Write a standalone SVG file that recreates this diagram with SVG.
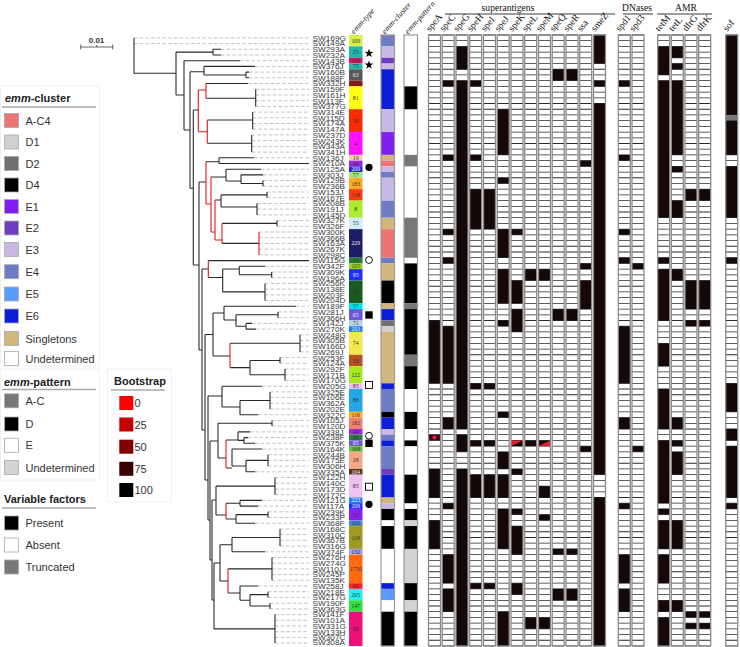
<svg xmlns="http://www.w3.org/2000/svg" width="740" height="647" viewBox="0 0 740 647">
<style>
.tk{fill:none;stroke:#2a2a2a;stroke-width:1.1}
.tr{fill:none;stroke:#e01818;stroke-width:1.1}
.dl{fill:none;stroke:#b4b4b4;stroke-width:0.8;stroke-dasharray:3.5 2.2}
.lab{font-family:"Liberation Sans",Arial,sans-serif;font-size:7.1px;fill:#3a3a3a}
.et{font-family:"Liberation Serif","Times New Roman",serif;font-size:5.8px;text-anchor:middle;fill:#333}
.ew{fill:#eee}
.hd{font-family:"Liberation Serif","Times New Roman",serif;font-size:9.6px;fill:#111}
.hi{font-family:"Liberation Serif","Times New Roman",serif;font-size:8px;font-style:italic;fill:#111}
.lg{font-family:"Liberation Sans",Arial,sans-serif;font-size:11px;fill:#333}
.lh{font-family:"Liberation Sans",Arial,sans-serif;font-size:11px;font-weight:bold;fill:#222}
.sq{stroke:#aaa;stroke-width:0.8}
.cw{fill:#fff}
.rs{stroke:#2a2a2a;stroke-width:12;stroke-dasharray:0.8 4.91}
.co{fill:none;stroke:#8a8a8a;stroke-width:1.3}
.b{fill:#140808}
.cb{stroke:#999;stroke-width:1.2;fill:none}
.ac4{fill:#ee7474}.d1{fill:#d0d0d0}.d2{fill:#707070}.d4{fill:#000}.e1{fill:#8020f0}.e2{fill:#6e3cc0}.e3{fill:#c9b8e6}.e4{fill:#6d7cc4}.e5{fill:#5a9cff}.e6{fill:#0c1ed6}.sg{fill:#d2b77c}.un{fill:#fff}
.pac{fill:#777}.pd{fill:#000}.pu{fill:#d3d3d3}
</style>
<defs>
<path id="star" d="M0,-4.6 L1.08,-1.5 4.38,-1.42 1.75,0.57 2.71,3.72 0,1.84 -2.71,3.72 -1.75,0.57 -4.38,-1.42 -1.08,-1.5Z" fill="#000"/>
</defs>
<rect width="740" height="647" fill="#fff"/>

<g id="scale">
<text x="96.5" y="42.5" font-family="Liberation Sans,Arial,sans-serif" font-size="8" font-weight="bold" fill="#333" text-anchor="middle">0.01</text>
<path d="M80.7 47H112.7 M80.7 44.5V49.5 M112.7 44.5V49.5 M96.7 45V47" stroke="#555" stroke-width="0.9" fill="none"/>
</g>

<g id="legend-cluster">
<rect x="0.5" y="86" width="99" height="280" fill="none" stroke="#f0f0f0"/>
<text class="lh" x="5" y="101.5"><tspan font-style="italic">emm</tspan>-cluster</text>
<path d="M2 107H96" stroke="#aaa" stroke-width="1.5"/>
<rect class="sq ac4" x="4.5" y="113.5" width="14" height="14"/><text class="lg" x="25.5" y="124.5">A-C4</text>
<rect class="sq d1" x="4.5" y="135" width="14" height="14"/><text class="lg" x="25.5" y="146">D1</text>
<rect class="sq d2" x="4.5" y="156.5" width="14" height="14"/><text class="lg" x="25.5" y="167.5">D2</text>
<rect class="sq d4" x="4.5" y="178" width="14" height="14"/><text class="lg" x="25.5" y="189">D4</text>
<rect class="sq e1" x="4.5" y="199.5" width="14" height="14"/><text class="lg" x="25.5" y="210.5">E1</text>
<rect class="sq e2" x="4.5" y="221" width="14" height="14"/><text class="lg" x="25.5" y="232">E2</text>
<rect class="sq e3" x="4.5" y="242.5" width="14" height="14"/><text class="lg" x="25.5" y="253.5">E3</text>
<rect class="sq e4" x="4.5" y="264.7" width="14" height="14"/><text class="lg" x="25.5" y="275.7">E4</text>
<rect class="sq e5" x="4.5" y="287" width="14" height="14"/><text class="lg" x="25.5" y="298">E5</text>
<rect class="sq e6" x="4.5" y="309" width="14" height="14"/><text class="lg" x="25.5" y="320">E6</text>
<rect class="sq sg" x="4.5" y="331.5" width="14" height="14"/><text class="lg" x="25.5" y="342.5">Singletons</text>
<rect class="sq un" x="4.5" y="351.5" width="14" height="14"/><text class="lg" x="25.5" y="362.5">Undetermined</text>
</g>

<g id="legend-pattern">
<rect x="0.5" y="369" width="99" height="111" fill="none" stroke="#f0f0f0"/>
<text class="lh" x="4" y="385.5"><tspan font-style="italic">emm</tspan>-pattern</text>
<path d="M2 389.5H96" stroke="#aaa" stroke-width="1.5"/>
<rect class="sq pac" x="4.5" y="393.8" width="14" height="14"/><text class="lg" x="25.5" y="404.8">A-C</text>
<rect class="sq pd" x="4.5" y="417" width="14" height="14"/><text class="lg" x="25.5" y="428">D</text>
<rect class="sq un" x="4.5" y="438.3" width="14" height="14"/><text class="lg" x="25.5" y="449.3">E</text>
<rect class="sq pu" x="4.5" y="460.5" width="14" height="14"/><text class="lg" x="25.5" y="471.5">Undetermined</text>
</g>

<g id="legend-bootstrap">
<rect x="107.5" y="369" width="64" height="133" fill="none" stroke="#f0f0f0"/>
<text class="lh" x="114" y="385">Bootstrap</text>
<path d="M111 390H165" stroke="#aaa" stroke-width="1.5"/>
<rect x="119.3" y="396" width="14" height="14" fill="#ff0000"/><text class="lg" x="134.5" y="407">0</text>
<rect x="119.3" y="417.5" width="14" height="14" fill="#c40000"/><text class="lg" x="134.5" y="428.5">25</text>
<rect x="119.3" y="439.7" width="14" height="14" fill="#800000"/><text class="lg" x="134.5" y="450.7">50</text>
<rect x="119.3" y="461.8" width="14" height="14" fill="#3a0000"/><text class="lg" x="134.5" y="472.8">75</text>
<rect x="119.3" y="483" width="14" height="14" fill="#000"/><text class="lg" x="134.5" y="494">100</text>
</g>

<g id="legend-factors">
<text class="lh" x="4" y="503">Variable factors</text>
<path d="M2 508H96" stroke="#aaa" stroke-width="1.5"/>
<rect class="sq" x="4.5" y="516" width="14" height="14" fill="#000"/><text class="lg" x="25.5" y="527">Present</text>
<rect class="sq" x="4.5" y="538" width="14" height="14" fill="#fff"/><text class="lg" x="25.5" y="549">Absent</text>
<rect class="sq" x="4.5" y="560" width="14" height="14" fill="#777"/><text class="lg" x="25.5" y="571">Truncated</text>
</g>

<g id="connectors">
<path class="dl" d="M134 37.9H309 M134 43.6H309 M221 49.3H309 M221 55H309 M240 60.7H309 M255 66.4H309 M249 72.1H309 M249 77.8H309 M248 83.5H309 M255.7 89.3H309 M255.7 95H309 M255.7 100.7H309 M255.7 106.4H309 M252.7 112.1H309 M252.7 117.8H309 M252.7 123.5H309 M252.7 129.2H309 M251.7 134.9H309 M251.7 140.6H309 M251.7 146.4H309 M251.7 152.1H309 M254 157.8H309 M261 169.2H309 M263 174.9H309 M263 180.6H309 M263 186.3H309 M267 192H309 M267 197.7H309 M257 203.5H309 M257 209.2H309 M257 214.9H309 M277 220.6H309 M277 226.3H309 M259 232H309 M259 237.7H309 M259 243.4H309 M259 249.1H309 M259 254.8H309 M265 266.3H309 M271.7 272H309 M271.7 277.7H309 M265 283.4H309 M265 289.1H309 M265 294.8H309 M265 300.5H309 M296 306.2H309 M278 311.9H309 M278 317.7H309 M252 323.4H309 M256 329.1H309 M300 334.8H309 M300 340.5H309 M300 346.2H309 M300 351.9H309 M280 357.6H309 M280 363.3H309 M285 369H309 M285 374.8H309 M285 380.5H309 M262 386.2H309 M270 391.9H309 M270 397.6H309 M270 403.3H309 M270 409H309 M258 414.7H309 M272 420.4H309 M272 426.1H309 M250 431.9H309 M248 437.6H309 M255 443.3H309 M262 449H309 M268 454.7H309 M268 460.4H309 M268 466.1H309 M255 471.8H309 M275 477.5H309 M275 483.2H309 M275 489H309 M275 494.7H309 M262 500.4H309 M258 506.1H309 M268 511.8H309 M268 517.5H309 M255 523.2H309 M280 528.9H309 M280 534.6H309 M280 540.3H309 M280 546.1H309 M265 551.8H309 M272 557.5H309 M272 563.2H309 M272 568.9H309 M272 574.6H309 M272 580.3H309 M258 586H309 M268 591.7H309 M268 597.4H309 M270 603.2H309 M270 608.9H309 M275 614.6H309 M275 620.3H309 M275 626H309 M275 631.7H309 M275 637.4H309 M275 643.1H309"/>
<path class="tk" d="M134 37.9V73.3H176 M176 52.1V95 M176 52.1H213 M213 49.3V55 M213 49.3H221 M213 55H221 M176 95H184 M184 60.7V130 M184 60.7H240 M184 130H190 M190 71.7V188.3 M190 71.7H204 M204 66.4V75 M204 66.4H255 M204 75H246 M246 72.1V77.8 M246 72.1H249 M246 77.8H249 M190 188.3H193.3 M193.3 110V265 M193.3 110H198.3 M206 83.5H248 M206 98.3H255.7 M255.7 89.3V106.4 M207.3 120H252.7 M252.7 112.1V129.2 M207.3 143.3H251.7 M251.7 134.9V152.1 M193.3 265H199 M199 182V350 M199 182H206 M206 161.7H219 M219 157.8V163.5 M219 157.8H254 M219 163.5H309 M211 177H226 M226 169.2V181 M226 169.2H261 M226 181H241 M241 174.9V183.5 M241 174.9H263 M241 183.5H263 M263 180.6V186.3 M215 200H221 M221 194.9V207 M221 194.9H267 M267 192V197.7 M221 207H257 M257 203.5V214.9 M222 223.4H277 M277 220.6V226.3 M222 243.4H259
M202 269V430 M202 269H208.3 M208.3 260.6H309 M208.3 277.5H222.7 M222.7 269V291.9 M222.7 269H239.3 M239.3 266.3V274.8 M239.3 266.3H265 M239.3 274.8H271.7 M271.7 272V277.7 M222.7 291.9H265 M265 283.4V300.5 M199 350H202 M202 430H205 M205 334.5V480 M205 334.5H213 M213 313V356 M213 313H224 M224 306.2V320 M224 306.2H296 M224 320H236 M236 314.8V326.2 M236 314.8H278 M278 311.9V317.7 M236 326.2H246 M246 323.4V329.1 M246 323.4H252 M246 329.1H256 M213 356H230 M230 343.3H300 M300 334.8V351.9 M230 367.6H250 M250 360.5V374.8 M250 360.5H280 M280 357.6V363.3 M250 374.8H285 M285 369V380.5
M205 480H208 M208 396V520 M208 396H222 M222 386.2V407 M222 386.2H262 M222 407H240 M240 400.5V414.7 M240 400.5H270 M270 391.9V409 M240 414.7H258
M208 520H210 M210 441V560 M210 441H218 M218 423.3V458 M218 423.3H272 M272 420.4V426.1 M218 458H226 M226 440H238 M238 431.9V440.4 M238 431.9H250 M238 440.4H244 M244 437.6V443.3 M244 437.6H248 M244 443.3H255 M226 468H232 M232 449V466 M232 449H262 M232 466H246 M246 460.4V471.8 M246 460.4H268 M268 454.7V466.1 M246 471.8H255
M210 560H212 M212 500V600 M212 500H216 M216 486.1V515 M216 486.1H275 M275 477.5V494.7 M216 515H226 M226 503.2H240 M240 500.4V506.1 M240 500.4H262 M240 506.1H258 M226 519H236 M236 514.6V523.2 M236 514.6H268 M268 511.8V517.5 M236 523.2H255
M212 600H214 M214 563V628.9 M214 563H220 M220 544.7V581 M220 544.7H232 M232 537.5V551.8 M232 537.5H280 M280 528.9V546.1 M232 551.8H265 M220 581H228 M228 568.9H272 M272 557.5V580.3 M228 593H240 M240 586V600.3 M240 586H258 M240 600.3H250 M250 594.6V606 M250 594.6H268 M268 591.7V597.4 M250 606H270 M270 603.2V608.9 M214 628.9H275 M275 614.6V643.1"/>
<path class="tr" d="M198.3 90V131.7 M198.3 90H206 M206 83.5V98.3 M198.3 131.7H207.3 M207.3 120V143.3 M206 161.7V204 M206 204H211 M211 177V232 M211 232H215 M215 200V240 M215 240H222 M222 223.4V243.4 M259 232V254.8 M208.3 260.6V277.5 M230 343.3V367.6 M226 440V468 M226 503.2V519 M228 568.9V593"/>
</g>

<g id="strains" class="lab" transform="translate(312.5,0) scale(1.16,1)">
<text x="0" y="40.76">SW169G</text><text x="0" y="46.47">SW149A</text><text x="0" y="52.18">SW293A</text><text x="0" y="57.89">SW232A</text><text x="0" y="63.6">SW143B</text><text x="0" y="69.31">SW376J</text><text x="0" y="75.02">SW160B</text><text x="0" y="80.73">SW188F</text><text x="0" y="86.44">SW332H</text><text x="0" y="92.15">SW159F</text><text x="0" y="97.86">SW161H</text><text x="0" y="103.57">SW113F</text><text x="0" y="109.28">SW377G</text><text x="0" y="114.99">SW314E</text><text x="0" y="120.7">SW115D</text><text x="0" y="126.41">SW174A</text><text x="0" y="132.12">SW147A</text><text x="0" y="137.83">SW237D</text><text x="0" y="143.54">SW243K</text><text x="0" y="149.25">SW343A</text><text x="0" y="154.96">SW341H</text><text x="0" y="160.67">SW136J</text><text x="0" y="166.38">SW210A</text><text x="0" y="172.09">SW125A</text><text x="0" y="177.8">SW303J</text><text x="0" y="183.51">SW129B</text><text x="0" y="189.22">SW236B</text><text x="0" y="194.93">SW153J</text><text x="0" y="200.64">SW167E</text><text x="0" y="206.35">SW208B</text><text x="0" y="212.06">SW191J</text><text x="0" y="217.77">SW145D</text><text x="0" y="223.48">SW327K</text><text x="0" y="229.19">SW326F</text><text x="0" y="234.9">SW300K</text><text x="0" y="240.61">SW366B</text><text x="0" y="246.32">SW163A</text><text x="0" y="252.03">SW267K</text><text x="0" y="257.74">SW298C</text><text x="0" y="263.45">SW115G</text><text x="0" y="269.16">SW342F</text><text x="0" y="274.87">SW309K</text><text x="0" y="280.58">SW196A</text><text x="0" y="286.29">SW256K</text><text x="0" y="292">SW138E</text><text x="0" y="297.71">SW203F</text><text x="0" y="303.42">SW204D</text><text x="0" y="309.13">SW189F</text><text x="0" y="314.84">SW281J</text><text x="0" y="320.55">SW366H</text><text x="0" y="326.26">SW142J</text><text x="0" y="331.97">SW270K</text><text x="0" y="337.68">SW248G</text><text x="0" y="343.39">SW305B</text><text x="0" y="349.1">SW166D</text><text x="0" y="354.81">SW269J</text><text x="0" y="360.52">SW253F</text><text x="0" y="366.23">SW124A</text><text x="0" y="371.94">SW292F</text><text x="0" y="377.65">SW171B</text><text x="0" y="383.36">SW170G</text><text x="0" y="389.07">SW205G</text><text x="0" y="394.78">SW325E</text><text x="0" y="400.49">SW106E</text><text x="0" y="406.2">SW362A</text><text x="0" y="411.91">SW202E</text><text x="0" y="417.62">SW322C</text><text x="0" y="423.33">SW105J</text><text x="0" y="429.04">SW120D</text><text x="0" y="434.75">SW338J</text><text x="0" y="440.46">SW238F</text><text x="0" y="446.17">SW375K</text><text x="0" y="451.88">SW164K</text><text x="0" y="457.59">SW244B</text><text x="0" y="463.3">SW175E</text><text x="0" y="469.01">SW306H</text><text x="0" y="474.72">SW335A</text><text x="0" y="480.43">SW122H</text><text x="0" y="486.14">SW140C</text><text x="0" y="491.85">SW173D</text><text x="0" y="497.56">SW172C</text><text x="0" y="503.27">SW121G</text><text x="0" y="508.98">SW117A</text><text x="0" y="514.69">SW239K</text><text x="0" y="520.4">SW233P</text><text x="0" y="526.11">SW368F</text><text x="0" y="531.82">SW168C</text><text x="0" y="537.53">SW310C</text><text x="0" y="543.24">SW367B</text><text x="0" y="548.95">SW316G</text><text x="0" y="554.66">SW374F</text><text x="0" y="560.37">SW276H</text><text x="0" y="566.08">SW274G</text><text x="0" y="571.79">SW110J</text><text x="0" y="577.5">SW245P</text><text x="0" y="583.21">SW135K</text><text x="0" y="588.92">SW258J</text><text x="0" y="594.63">SW218E</text><text x="0" y="600.34">SW217G</text><text x="0" y="606.05">SW190F</text><text x="0" y="611.76">SW363G</text><text x="0" y="617.47">SW141F</text><text x="0" y="623.18">SW101A</text><text x="0" y="628.89">SW331G</text><text x="0" y="634.6">SW133H</text><text x="0" y="640.31">SW307C</text><text x="0" y="645.5">SW308A</text>
</g>

<g id="headers">
<text class="hi" transform="translate(354,34.5) rotate(-48)">emm-type</text>
<text class="hi" transform="translate(385,34.5) rotate(-48)">emm-cluster</text>
<text class="hi" transform="translate(408,34.5) rotate(-48)">emm-pattern</text>
<text class="hd" x="508" y="10.5" text-anchor="middle">superantigens</text>
<path d="M445 14H615 M623 14H653 M657 14H712" stroke="#222" stroke-width="0.9"/>
<text class="hd" x="637" y="10.5" text-anchor="middle">DNases</text>
<text class="hd" x="686" y="10.5" text-anchor="middle">AMR</text>
<text class="hd" transform="translate(430,32) rotate(-50)">speA</text>
<text class="hd" transform="translate(443.7,32) rotate(-50)">speC</text>
<text class="hd" transform="translate(457.5,32) rotate(-50)">speG</text>
<text class="hd" transform="translate(471.2,32) rotate(-50)">speH</text>
<text class="hd" transform="translate(485,32) rotate(-50)">speI</text>
<text class="hd" transform="translate(498.7,32) rotate(-50)">speJ</text>
<text class="hd" transform="translate(512.5,32) rotate(-50)">speK</text>
<text class="hd" transform="translate(526.2,32) rotate(-50)">speL</text>
<text class="hd" transform="translate(540,32) rotate(-50)">speM</text>
<text class="hd" transform="translate(553.7,32) rotate(-50)">speQ</text>
<text class="hd" transform="translate(567.5,32) rotate(-50)">speR</text>
<text class="hd" transform="translate(581.2,32) rotate(-50)">ssa</text>
<text class="hd" transform="translate(595,32) rotate(-50)">smeZ</text>
<text class="hd" transform="translate(619.8,32) rotate(-50)">spd1</text>
<text class="hd" transform="translate(633.5,32) rotate(-50)">spd3</text>
<text class="hd" transform="translate(659.2,32) rotate(-50)">tetM</text>
<text class="hd" transform="translate(672.8,32) rotate(-50)">tetL</text>
<text class="hd" transform="translate(686.5,32) rotate(-50)">dfrG</text>
<text class="hd" transform="translate(700.2,32) rotate(-50)">dfrK</text>
<text class="hd" transform="translate(727.2,32) rotate(-50)">sof</text>
</g>

<g id="emm-type">
<rect x="349" y="35" width="13.5" height="11.42" fill="#d7ef4a"/><text class="et" x="355.75" y="42.7">109</text>
<rect x="349" y="46.42" width="13.5" height="11.42" fill="#22b5b0"/><text class="et" x="355.75" y="54.1">25</text>
<rect x="349" y="57.84" width="13.5" height="5.71" fill="#e0135e"/><text class="et" x="355.75" y="62.7">166</text>
<rect x="349" y="63.55" width="13.5" height="5.71" fill="#26b3a8"/><text class="et" x="355.75" y="68.4">75</text>
<rect x="349" y="69.26" width="13.5" height="11.42" fill="#595959"/><text class="et ew" x="355.75" y="77">63</text>
<rect x="349" y="80.68" width="13.5" height="5.71" fill="#8b1a10"/><text class="et" x="355.75" y="85.5">75</text>
<rect x="349" y="86.39" width="13.5" height="22.84" fill="#ffff10"/><text class="et" x="355.75" y="99.8">81</text>
<rect x="349" y="109.23" width="13.5" height="22.84" fill="#ff2a00"/><text class="et" x="355.75" y="122.6">58</text>
<rect x="349" y="132.07" width="13.5" height="22.84" fill="#ff10ff"/><text class="et" x="355.75" y="145.5">4</text>
<rect x="349" y="154.91" width="13.5" height="5.71" fill="#f8d0a8"/><text class="et" x="355.75" y="159.8">19</text>
<rect x="349" y="160.62" width="13.5" height="5.71" fill="#9b26e0"/><text class="et" x="355.75" y="165.5">49</text>
<rect x="349" y="166.33" width="13.5" height="5.71" fill="#2a28f0"/><text class="et ew" x="355.75" y="171.2">209</text>
<rect x="349" y="172.04" width="13.5" height="5.71" fill="#98e890"/><text class="et" x="355.75" y="176.9">77</text>
<rect x="349" y="177.75" width="13.5" height="11.42" fill="#ffaa22"/><text class="et" x="355.75" y="185.5">183</text>
<rect x="349" y="189.17" width="13.5" height="11.42" fill="#ff3a10"/><text class="et" x="355.75" y="196.9">118</text>
<rect x="349" y="200.59" width="13.5" height="17.13" fill="#aaee2a"/><text class="et" x="355.75" y="211.2">8</text>
<rect x="349" y="217.72" width="13.5" height="11.42" fill="#cfeefa"/><text class="et" x="355.75" y="225.4">55</text>
<rect x="349" y="229.14" width="13.5" height="28.55" fill="#1c1c68"/><text class="et ew" x="355.75" y="245.4">229</text>
<rect x="349" y="257.69" width="13.5" height="5.71" fill="#2a7a30"/><text class="et" x="355.75" y="262.5">33</text>
<rect x="349" y="263.4" width="13.5" height="5.71" fill="#9ad030"/><text class="et" x="355.75" y="268.2">105</text>
<rect x="349" y="269.11" width="13.5" height="11.42" fill="#2030ff"/><text class="et ew" x="355.75" y="276.8">95</text>
<rect x="349" y="280.53" width="13.5" height="22.84" fill="#1a5a20"/><text class="et" x="355.75" y="294">86</text>
<rect x="349" y="303.37" width="13.5" height="5.71" fill="#00e0f0"/><text class="et" x="355.75" y="308.2">57</text>
<rect x="349" y="309.08" width="13.5" height="11.42" fill="#6a5ad8"/><text class="et ew" x="355.75" y="316.8">65</text>
<rect x="349" y="320.5" width="13.5" height="5.71" fill="#b8d8e0"/><text class="et" x="355.75" y="325.4">71</text>
<rect x="349" y="326.21" width="13.5" height="5.71" fill="#1e78ff"/><text class="et ew" x="355.75" y="331.1">203</text>
<rect x="349" y="331.92" width="13.5" height="22.84" fill="#f0ea50"/><text class="et" x="355.75" y="345.3">74</text>
<rect x="349" y="354.76" width="13.5" height="11.42" fill="#b85020"/><text class="et" x="355.75" y="362.5">18</text>
<rect x="349" y="366.18" width="13.5" height="17.13" fill="#a8ea20"/><text class="et" x="355.75" y="376.8">122</text>
<rect x="349" y="383.31" width="13.5" height="5.71" fill="#f0c0f0"/><text class="et" x="355.75" y="388.2">85</text>
<rect x="349" y="389.02" width="13.5" height="22.84" fill="#22a8e8"/><text class="et" x="355.75" y="402.4">88</text>
<rect x="349" y="411.86" width="13.5" height="5.71" fill="#ffb020"/><text class="et" x="355.75" y="416.7">116</text>
<rect x="349" y="417.57" width="13.5" height="11.42" fill="#f08070"/><text class="et" x="355.75" y="425.3">182</text>
<rect x="349" y="428.99" width="13.5" height="5.71" fill="#9a2ae0"/><text class="et" x="355.75" y="433.9">49</text>
<rect x="349" y="434.7" width="13.5" height="5.71" fill="#2a8040"/><text class="et" x="355.75" y="439.6">89</text>
<rect x="349" y="440.41" width="13.5" height="5.71" fill="#6a5ad8"/><text class="et ew" x="355.75" y="445.3">65</text>
<rect x="349" y="446.12" width="13.5" height="5.71" fill="#70c040"/><text class="et" x="355.75" y="451">169</text>
<rect x="349" y="451.83" width="13.5" height="17.13" fill="#f4a888"/><text class="et" x="355.75" y="462.4">28</text>
<rect x="349" y="468.96" width="13.5" height="5.71" fill="#5a3020"/><text class="et ew" x="355.75" y="473.8">104</text>
<rect x="349" y="474.67" width="13.5" height="22.84" fill="#f0c0f0"/><text class="et" x="355.75" y="488.1">85</text>
<rect x="349" y="497.51" width="13.5" height="5.71" fill="#2080ff"/><text class="et ew" x="355.75" y="502.4">223</text>
<rect x="349" y="503.22" width="13.5" height="5.71" fill="#2030ff"/><text class="et ew" x="355.75" y="508.1">209</text>
<rect x="349" y="508.93" width="13.5" height="11.42" fill="#8a20f0"/><text class="et" x="355.75" y="516.6">50</text>
<rect x="349" y="520.35" width="13.5" height="5.71" fill="#4a8ad0"/><text class="et" x="355.75" y="525.2">162</text>
<rect x="349" y="526.06" width="13.5" height="22.84" fill="#a09a20"/><text class="et" x="355.75" y="539.5">119</text>
<rect x="349" y="548.9" width="13.5" height="5.71" fill="#a0a0e8"/><text class="et" x="355.75" y="553.8">132</text>
<rect x="349" y="554.61" width="13.5" height="28.55" fill="#ff6a10"/><text class="et" x="355.75" y="570.9">1750</text>
<rect x="349" y="583.16" width="13.5" height="5.71" fill="#ff2020"/><text class="et" x="355.75" y="588">42</text>
<rect x="349" y="588.87" width="13.5" height="11.42" fill="#20f0f8"/><text class="et" x="355.75" y="596.6">205</text>
<rect x="349" y="600.29" width="13.5" height="11.42" fill="#30e040"/><text class="et" x="355.75" y="608">147</text>
<rect x="349" y="611.71" width="13.5" height="34.26" fill="#f0107a"/><text class="et" x="355.75" y="630.8">80</text>
</g>

<g id="markers">
<use href="#star" x="369" y="53.3"/>
<use href="#star" x="369" y="65"/>
<circle cx="369" cy="167.3" r="3.6" fill="#000"/>
<circle cx="369" cy="260" r="3.4" fill="#fff" stroke="#000" stroke-width="0.9"/>
<rect x="365.3" y="311.3" width="7.4" height="7.4" fill="#000"/>
<rect x="365.5" y="381.5" width="7" height="7" fill="#fff" stroke="#000" stroke-width="0.9"/>
<circle cx="369" cy="435.7" r="3.4" fill="#fff" stroke="#000" stroke-width="0.9"/>
<rect x="365.3" y="439.6" width="7.4" height="7.4" fill="#000"/>
<rect x="365.5" y="483.2" width="7" height="7" fill="#fff" stroke="#000" stroke-width="0.9"/>
<circle cx="369" cy="504.3" r="3.6" fill="#000"/>
</g>

<g id="emm-cluster">
<rect class="e4" x="381" y="35" width="13.5" height="11.42"/>
<rect class="e3" x="381" y="46.42" width="13.5" height="11.42"/>
<rect class="e2" x="381" y="57.84" width="13.5" height="5.71"/>
<rect class="e3" x="381" y="63.55" width="13.5" height="5.71"/>
<rect class="e6" x="381" y="69.26" width="13.5" height="39.97"/>
<rect class="e3" x="381" y="109.23" width="13.5" height="22.84"/>
<rect class="e1" x="381" y="132.07" width="13.5" height="22.84"/>
<rect class="sg" x="381" y="154.91" width="13.5" height="5.71"/>
<rect class="ac4" x="381" y="160.62" width="13.5" height="5.71"/>
<rect class="e3" x="381" y="166.33" width="13.5" height="5.71"/>
<rect class="e4" x="381" y="172.04" width="13.5" height="5.71"/>
<rect class="e3" x="381" y="177.75" width="13.5" height="22.84"/>
<rect class="e4" x="381" y="200.59" width="13.5" height="17.13"/>
<rect class="sg" x="381" y="217.72" width="13.5" height="11.42"/>
<rect class="ac4" x="381" y="229.14" width="13.5" height="28.55"/>
<rect class="e4" x="381" y="257.69" width="13.5" height="5.71"/>
<rect class="sg" x="381" y="263.4" width="13.5" height="17.13"/>
<rect class="d4" x="381" y="280.53" width="13.5" height="22.84"/>
<rect class="sg" x="381" y="303.37" width="13.5" height="5.71"/>
<rect class="e6" x="381" y="309.08" width="13.5" height="11.42"/>
<rect class="d2" x="381" y="320.5" width="13.5" height="5.71"/>
<rect class="d1" x="381" y="326.21" width="13.5" height="5.71"/>
<rect class="sg" x="381" y="331.92" width="13.5" height="51.39"/>
<rect class="e6" x="381" y="383.31" width="13.5" height="5.71"/>
<rect class="e4" x="381" y="389.02" width="13.5" height="22.84"/>
<rect class="d4" x="381" y="411.86" width="13.5" height="5.71"/>
<rect class="e6" x="381" y="417.57" width="13.5" height="11.42"/>
<rect class="e3" x="381" y="428.99" width="13.5" height="5.71"/>
<rect class="e4" x="381" y="434.7" width="13.5" height="5.71"/>
<rect class="e6" x="381" y="440.41" width="13.5" height="5.71"/>
<rect class="e4" x="381" y="446.12" width="13.5" height="22.84"/>
<rect class="e2" x="381" y="468.96" width="13.5" height="5.71"/>
<rect class="e6" x="381" y="474.67" width="13.5" height="22.84"/>
<rect class="sg" x="381" y="497.51" width="13.5" height="5.71"/>
<rect class="e3" x="381" y="503.22" width="13.5" height="5.71"/>
<rect class="d4" x="381" y="508.93" width="13.5" height="11.42"/>
<rect class="un" x="381" y="520.35" width="13.5" height="5.71"/>
<rect class="d4" x="381" y="526.06" width="13.5" height="22.84"/>
<rect class="un" x="381" y="548.9" width="13.5" height="34.26"/>
<rect class="e6" x="381" y="583.16" width="13.5" height="5.71"/>
<rect class="e5" x="381" y="588.87" width="13.5" height="11.42"/>
<rect class="un" x="381" y="600.29" width="13.5" height="11.42"/>
<rect class="d4" x="381" y="611.71" width="13.5" height="34.26"/>
<rect class="cb" x="381" y="35" width="13.5" height="611"/>
</g>

<g id="emm-pattern">
<rect class="un" x="404" y="35" width="13.5" height="611"/>
<rect class="pd" x="404" y="86.39" width="13.5" height="22.84"/>
<rect class="pac" x="404" y="154.91" width="13.5" height="11.42"/>
<rect class="pac" x="404" y="217.72" width="13.5" height="39.97"/>
<rect class="pd" x="404" y="263.4" width="13.5" height="39.97"/>
<rect class="pac" x="404" y="303.37" width="13.5" height="5.71"/>
<rect class="pd" x="404" y="309.08" width="13.5" height="45.68"/>
<rect class="pac" x="404" y="354.76" width="13.5" height="11.42"/>
<rect class="pd" x="404" y="366.18" width="13.5" height="22.84"/>
<rect class="pd" x="404" y="411.86" width="13.5" height="17.13"/>
<rect class="pd" x="404" y="440.41" width="13.5" height="5.71"/>
<rect class="pd" x="404" y="474.67" width="13.5" height="28.55"/>
<rect class="pd" x="404" y="508.93" width="13.5" height="11.42"/>
<rect class="pu" x="404" y="520.35" width="13.5" height="5.71"/>
<rect class="pd" x="404" y="526.06" width="13.5" height="22.84"/>
<rect class="pu" x="404" y="548.9" width="13.5" height="34.26"/>
<rect class="pd" x="404" y="583.16" width="13.5" height="17.13"/>
<rect class="pu" x="404" y="600.29" width="13.5" height="11.42"/>
<rect class="pd" x="404" y="611.71" width="13.5" height="34.26"/>
<rect class="cb" x="404" y="35" width="13.5" height="611"/>
</g>

<g id="heatmap">
<g id="col-speA"><rect class="cw" x="428.5" y="35" width="12" height="611"/><line class="rs" x1="434.5" y1="34.6" x2="434.5" y2="646.4"/>
<rect class="b" x="428.5" y="320.5" width="12" height="62.81"/><rect x="428.5" y="434.7" width="12" height="5.71" fill="#3a0610"/><circle cx="434.5" cy="437.55" r="2" fill="#e8204a"/><rect class="b" x="428.5" y="468.96" width="12" height="28.55"/><rect class="b" x="428.5" y="520.35" width="12" height="28.55"/><rect class="co" x="428.5" y="35" width="12" height="611"/></g>
<g id="col-speC"><rect class="cw" x="442.2" y="35" width="12" height="611"/><line class="rs" x1="448.2" y1="34.6" x2="448.2" y2="646.4"/>
<rect class="b" x="442.2" y="80.68" width="12" height="5.71"/><rect class="b" x="442.2" y="154.91" width="12" height="5.71"/><rect class="b" x="442.2" y="229.14" width="12" height="5.71"/><rect class="b" x="442.2" y="257.69" width="12" height="5.71"/><rect class="b" x="442.2" y="326.21" width="12" height="57.1"/><rect class="b" x="442.2" y="417.57" width="12" height="11.42"/><rect class="b" x="442.2" y="503.22" width="12" height="5.71"/><rect class="b" x="442.2" y="554.61" width="12" height="28.55"/><rect class="b" x="442.2" y="588.87" width="12" height="22.84"/><rect class="co" x="442.2" y="35" width="12" height="611"/></g>
<g id="col-speG"><rect class="cw" x="456" y="35" width="12" height="611"/><line class="rs" x1="462" y1="34.6" x2="462" y2="646.4"/>
<rect class="b" x="456" y="46.42" width="12" height="22.84"/><rect class="b" x="456" y="80.68" width="12" height="348.31"/><rect class="b" x="456" y="434.7" width="12" height="17.13"/><rect class="b" x="456" y="468.96" width="12" height="177.01"/><rect class="co" x="456" y="35" width="12" height="611"/></g>
<g id="col-speH"><rect class="cw" x="469.7" y="35" width="12" height="611"/><line class="rs" x1="475.7" y1="34.6" x2="475.7" y2="646.4"/>
<rect class="b" x="469.7" y="80.68" width="12" height="5.71"/><rect class="b" x="469.7" y="154.91" width="12" height="5.71"/><rect class="b" x="469.7" y="189.17" width="12" height="39.97"/><rect class="b" x="469.7" y="383.31" width="12" height="5.71"/><rect class="b" x="469.7" y="440.41" width="12" height="5.71"/><rect class="b" x="469.7" y="474.67" width="12" height="22.84"/><rect class="b" x="469.7" y="583.16" width="12" height="5.71"/><rect class="co" x="469.7" y="35" width="12" height="611"/></g>
<g id="col-speI"><rect class="cw" x="483.5" y="35" width="12" height="611"/><line class="rs" x1="489.5" y1="34.6" x2="489.5" y2="646.4"/>
<rect class="b" x="483.5" y="189.17" width="12" height="39.97"/><rect class="b" x="483.5" y="383.31" width="12" height="5.71"/><rect class="b" x="483.5" y="440.41" width="12" height="5.71"/><rect class="b" x="483.5" y="474.67" width="12" height="22.84"/><rect class="b" x="483.5" y="583.16" width="12" height="5.71"/><rect class="co" x="483.5" y="35" width="12" height="611"/></g>
<g id="col-speJ"><rect class="cw" x="497.2" y="35" width="12" height="611"/><line class="rs" x1="503.2" y1="34.6" x2="503.2" y2="646.4"/>
<rect class="b" x="497.2" y="109.23" width="12" height="45.68"/><rect class="b" x="497.2" y="177.75" width="12" height="5.71"/><rect class="b" x="497.2" y="229.14" width="12" height="28.55"/><rect class="b" x="497.2" y="269.11" width="12" height="34.26"/><rect class="b" x="497.2" y="320.5" width="12" height="5.71"/><rect class="b" x="497.2" y="411.86" width="12" height="5.71"/><rect class="b" x="497.2" y="451.83" width="12" height="17.13"/><rect class="b" x="497.2" y="474.67" width="12" height="22.84"/><rect class="b" x="497.2" y="508.93" width="12" height="39.97"/><rect class="b" x="497.2" y="611.71" width="12" height="34.26"/><rect class="co" x="497.2" y="35" width="12" height="611"/></g>
<g id="col-speK"><rect class="cw" x="511" y="35" width="12" height="611"/><line class="rs" x1="517" y1="34.6" x2="517" y2="646.4"/>
<rect class="b" x="511" y="229.14" width="12" height="5.71"/><rect class="b" x="511" y="280.53" width="12" height="22.84"/><rect class="b" x="511" y="309.08" width="12" height="22.84"/><rect class="b" x="511" y="440.41" width="12" height="5.71"/><polygon points="511,440.41 523,440.41 511,446.12" fill="#e8202a"/><rect class="b" x="511" y="468.96" width="12" height="5.71"/><rect class="b" x="511" y="508.93" width="12" height="5.71"/><rect class="b" x="511" y="526.06" width="12" height="28.55"/><rect class="b" x="511" y="583.16" width="12" height="11.42"/><rect class="co" x="511" y="35" width="12" height="611"/></g>
<g id="col-speL"><rect class="cw" x="524.7" y="35" width="12" height="611"/><line class="rs" x1="530.7" y1="34.6" x2="530.7" y2="646.4"/>
<rect class="b" x="524.7" y="269.11" width="12" height="11.42"/><rect class="b" x="524.7" y="440.41" width="12" height="5.71"/><rect class="b" x="524.7" y="617.42" width="12" height="11.42"/><rect class="co" x="524.7" y="35" width="12" height="611"/></g>
<g id="col-speM"><rect class="cw" x="538.5" y="35" width="12" height="611"/><line class="rs" x1="544.5" y1="34.6" x2="544.5" y2="646.4"/>
<rect class="b" x="538.5" y="269.11" width="12" height="11.42"/><rect class="b" x="538.5" y="440.41" width="12" height="5.71"/><polygon points="550.5,440.41 550.5,446.12 538.5,446.12" fill="#e8202a"/><rect class="b" x="538.5" y="486.09" width="12" height="11.42"/><rect class="b" x="538.5" y="514.64" width="12" height="5.71"/><rect class="b" x="538.5" y="617.42" width="12" height="11.42"/><rect class="co" x="538.5" y="35" width="12" height="611"/></g>
<g id="col-speQ"><rect class="cw" x="552.2" y="35" width="12" height="611"/><line class="rs" x1="558.2" y1="34.6" x2="558.2" y2="646.4"/>
<rect class="b" x="552.2" y="69.26" width="12" height="11.42"/><rect class="b" x="552.2" y="309.08" width="12" height="11.42"/><rect class="b" x="552.2" y="548.9" width="12" height="5.71"/><rect class="b" x="552.2" y="588.87" width="12" height="11.42"/><rect class="co" x="552.2" y="35" width="12" height="611"/></g>
<g id="col-speR"><rect class="cw" x="566" y="35" width="12" height="611"/><line class="rs" x1="572" y1="34.6" x2="572" y2="646.4"/>
<rect class="b" x="566" y="69.26" width="12" height="11.42"/><rect class="b" x="566" y="309.08" width="12" height="11.42"/><rect class="b" x="566" y="548.9" width="12" height="5.71"/><rect class="b" x="566" y="588.87" width="12" height="11.42"/><rect class="co" x="566" y="35" width="12" height="611"/></g>
<g id="col-ssa"><rect class="cw" x="579.7" y="35" width="12" height="611"/><line class="rs" x1="585.7" y1="34.6" x2="585.7" y2="646.4"/>
<rect class="b" x="579.7" y="160.62" width="12" height="5.71"/><rect class="b" x="579.7" y="263.4" width="12" height="5.71"/><rect class="b" x="579.7" y="280.53" width="12" height="28.55"/><rect class="b" x="579.7" y="446.12" width="12" height="5.71"/><rect class="co" x="579.7" y="35" width="12" height="611"/></g>
<g id="col-smeZ"><rect class="cw" x="593.5" y="35" width="12" height="611"/><line class="rs" x1="599.5" y1="34.6" x2="599.5" y2="646.4"/>
<rect class="b" x="593.5" y="35" width="12" height="28.55"/><rect class="b" x="593.5" y="80.68" width="12" height="5.71"/><rect class="b" x="593.5" y="103.52" width="12" height="371.15"/><rect class="b" x="593.5" y="497.51" width="12" height="148.46"/><rect class="co" x="593.5" y="35" width="12" height="611"/></g>
<g id="col-spd1"><rect class="cw" x="618.3" y="35" width="12" height="611"/><line class="rs" x1="624.3" y1="34.6" x2="624.3" y2="646.4"/>
<rect class="b" x="618.3" y="80.68" width="12" height="5.71"/><rect class="b" x="618.3" y="154.91" width="12" height="5.71"/><rect class="b" x="618.3" y="229.14" width="12" height="5.71"/><rect class="b" x="618.3" y="257.69" width="12" height="5.71"/><rect class="b" x="618.3" y="326.21" width="12" height="57.1"/><rect class="b" x="618.3" y="417.57" width="12" height="11.42"/><rect class="b" x="618.3" y="503.22" width="12" height="5.71"/><rect class="b" x="618.3" y="554.61" width="12" height="28.55"/><rect class="b" x="618.3" y="588.87" width="12" height="22.84"/><rect class="co" x="618.3" y="35" width="12" height="611"/></g>
<g id="col-spd3"><rect class="cw" x="632" y="35" width="12" height="611"/><line class="rs" x1="638" y1="34.6" x2="638" y2="646.4"/>
<rect class="b" x="632" y="263.4" width="12" height="5.71"/><rect class="b" x="632" y="446.12" width="12" height="5.71"/><rect class="co" x="632" y="35" width="12" height="611"/></g>
<g id="col-tetM"><rect class="cw" x="657.7" y="35" width="12" height="611"/><line class="rs" x1="663.7" y1="34.6" x2="663.7" y2="646.4"/>
<rect class="b" x="657.7" y="46.42" width="12" height="28.55"/><rect class="b" x="657.7" y="80.68" width="12" height="137.04"/><rect class="b" x="657.7" y="257.69" width="12" height="5.71"/><rect class="b" x="657.7" y="269.11" width="12" height="51.39"/><rect class="b" x="657.7" y="343.34" width="12" height="22.84"/><rect class="b" x="657.7" y="389.02" width="12" height="39.97"/><rect class="b" x="657.7" y="440.41" width="12" height="62.81"/><rect class="b" x="657.7" y="508.93" width="12" height="5.71"/><rect class="b" x="657.7" y="520.35" width="12" height="28.55"/><rect class="b" x="657.7" y="554.61" width="12" height="28.55"/><rect class="b" x="657.7" y="600.29" width="12" height="11.42"/><rect class="b" x="657.7" y="617.42" width="12" height="28.55"/><rect class="co" x="657.7" y="35" width="12" height="611"/></g>
<g id="col-tetL"><rect class="cw" x="671.3" y="35" width="12" height="611"/><line class="rs" x1="677.3" y1="34.6" x2="677.3" y2="646.4"/>
<rect class="b" x="671.3" y="46.42" width="12" height="11.42"/><rect class="b" x="671.3" y="63.55" width="12" height="5.71"/><rect class="b" x="671.3" y="80.68" width="12" height="74.23"/><rect class="b" x="671.3" y="166.33" width="12" height="5.71"/><rect class="b" x="671.3" y="200.59" width="12" height="17.13"/><rect class="b" x="671.3" y="269.11" width="12" height="11.42"/><rect class="b" x="671.3" y="417.57" width="12" height="11.42"/><rect class="b" x="671.3" y="440.41" width="12" height="5.71"/><rect class="b" x="671.3" y="451.83" width="12" height="22.84"/><rect class="b" x="671.3" y="520.35" width="12" height="28.55"/><rect class="b" x="671.3" y="600.29" width="12" height="11.42"/><rect class="co" x="671.3" y="35" width="12" height="611"/></g>
<g id="col-dfrG"><rect class="cw" x="685" y="35" width="12" height="611"/><line class="rs" x1="691" y1="34.6" x2="691" y2="646.4"/>
<rect class="b" x="685" y="189.17" width="12" height="11.42"/><rect class="b" x="685" y="280.53" width="12" height="28.55"/><rect class="b" x="685" y="320.5" width="12" height="5.71"/><rect class="b" x="685" y="611.71" width="12" height="5.71"/><rect class="b" x="685" y="623.13" width="12" height="5.71"/><rect class="co" x="685" y="35" width="12" height="611"/></g>
<g id="col-dfrK"><rect class="cw" x="698.7" y="35" width="12" height="611"/><line class="rs" x1="704.7" y1="34.6" x2="704.7" y2="646.4"/>
<rect class="b" x="698.7" y="189.17" width="12" height="11.42"/><rect class="b" x="698.7" y="280.53" width="12" height="28.55"/><rect class="b" x="698.7" y="320.5" width="12" height="5.71"/><rect class="b" x="698.7" y="611.71" width="12" height="5.71"/><rect class="b" x="698.7" y="623.13" width="12" height="5.71"/><rect class="co" x="698.7" y="35" width="12" height="611"/></g>
<g id="col-sof"><rect class="cw" x="725.7" y="35" width="12" height="611"/><line class="rs" x1="731.7" y1="34.6" x2="731.7" y2="646.4"/>
<rect class="b" x="725.7" y="35" width="12" height="79.94"/><rect x="725.7" y="114.94" width="12" height="5.71" fill="#777"/><rect class="b" x="725.7" y="120.65" width="12" height="34.26"/><rect class="b" x="725.7" y="166.33" width="12" height="51.39"/><rect class="b" x="725.7" y="257.69" width="12" height="5.71"/><rect class="b" x="725.7" y="383.31" width="12" height="28.55"/><rect class="b" x="725.7" y="428.99" width="12" height="11.42"/><rect class="b" x="725.7" y="446.12" width="12" height="51.39"/><rect class="b" x="725.7" y="503.22" width="12" height="5.71"/><rect class="co" x="725.7" y="35" width="12" height="611"/></g>
</g>
</svg>
